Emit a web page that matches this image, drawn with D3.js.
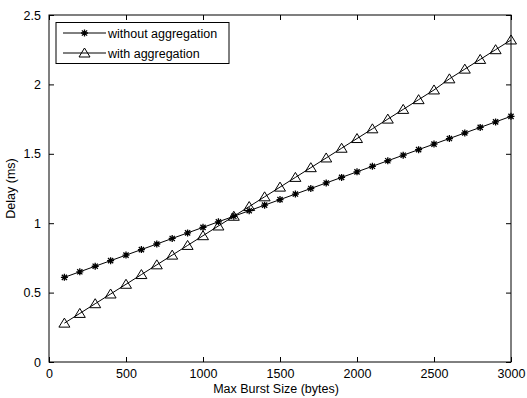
<!DOCTYPE html>
<html><head><meta charset="utf-8">
<script src="https://cdn.jsdelivr.net/npm/d3@7"></script>
<style>body{margin:0;background:#fff}svg{display:block}text{font-family:"Liberation Sans",Arial,sans-serif;fill:#000}</style>
</head><body>
<script>
const burstSizes = [100,200,300,400,500,600,700,800,900,1000,1100,1200,1300,1400,1500,1600,1700,1800,1900,2000,2100,2200,2300,2400,2500,2600,2700,2800,2900,3000];
const withoutAgg = [0.61,0.65,0.69,0.73,0.77,0.81,0.85,0.89,0.93,0.97,1.01,1.05,1.09,1.13,1.17,1.21,1.25,1.29,1.33,1.37,1.41,1.45,1.49,1.53,1.57,1.61,1.65,1.69,1.73,1.77];
const withAgg = [0.28,0.35,0.42,0.49,0.56,0.63,0.70,0.77,0.84,0.91,0.98,1.05,1.12,1.19,1.26,1.33,1.40,1.47,1.54,1.61,1.68,1.75,1.82,1.89,1.96,2.04,2.11,2.18,2.25,2.32];
const xTicks = [0,500,1000,1500,2000,2500,3000];
const yTicks = [0,0.5,1,1.5,2,2.5];
const seriesNames = ["without aggregation","with aggregation"];

const W=527,H=398, L=49,R=511,T=15,B=362;
const svg=d3.select("body").append("svg").attr("width",W).attr("height",H);
const x=d3.scaleLinear().domain([0,3000]).range([L,R]);
const y=d3.scaleLinear().domain([0,2.5]).range([B,T]);
const fs="12.5px";

function styleAxis(g){g.select(".domain").remove();g.selectAll("line").attr("stroke","#000");g.selectAll("text").style("font-size",fs);}
svg.append("g").attr("transform",`translate(0,${B})`).call(d3.axisBottom(x).tickValues(xTicks).tickSize(-5).tickPadding(7).tickFormat(d3.format("d"))).call(styleAxis);
svg.append("g").attr("transform",`translate(0,${T})`).call(d3.axisTop(x).tickValues(xTicks).tickSize(-5).tickFormat("")).call(styleAxis);
svg.append("g").attr("transform",`translate(${L},0)`).call(d3.axisLeft(y).tickValues(yTicks).tickSize(-5).tickPadding(8).tickFormat(d=>String(d))).call(styleAxis);
svg.append("g").attr("transform",`translate(${R},0)`).call(d3.axisRight(y).tickValues(yTicks).tickSize(-5).tickFormat("")).call(styleAxis);
svg.append("rect").attr("x",L).attr("y",T).attr("width",R-L).attr("height",B-T).attr("fill","none").attr("stroke","#000").attr("stroke-width",1);

const line=d3.line().x(d=>x(d[0])).y(d=>y(d[1]));
const s1=burstSizes.map((b,i)=>[b,withoutAgg[i]]);
const s2=burstSizes.map((b,i)=>[b,withAgg[i]]);

function star(g,cx,cy){
  const r=3.5,d=2.6;
  g.append("path").attr("d",`M${cx-r},${cy}H${cx+r}M${cx},${cy-r}V${cy+r}M${cx-d},${cy-d}L${cx+d},${cy+d}M${cx-d},${cy+d}L${cx+d},${cy-d}`).attr("stroke","#000").attr("stroke-width",1.3);
}
function tri(g,cx,cy){
  g.append("path").attr("d",`M${cx},${cy-5}L${cx+5.5},${cy+4}L${cx-5.5},${cy+4}Z`).attr("fill","none").attr("stroke","#000").attr("stroke-width",1);
}
const pg=svg.append("g");
pg.append("path").datum(s1).attr("d",line).attr("fill","none").attr("stroke","#000").attr("stroke-width",1);
pg.append("path").datum(s2).attr("d",line).attr("fill","none").attr("stroke","#000").attr("stroke-width",1);
s1.forEach(d=>star(pg,x(d[0]),y(d[1])));
s2.forEach(d=>tri(pg,x(d[0]),y(d[1])));

// legend
const lg=svg.append("g");
lg.append("rect").attr("x",56).attr("y",22.5).attr("width",173).attr("height",41).attr("fill","#fff").attr("stroke","#000");
[[33,star],[53,tri]].forEach((r,i)=>{
  lg.append("line").attr("x1",63).attr("x2",106).attr("y1",r[0]).attr("y2",r[0]).attr("stroke","#000");
  r[1](lg,84.5,r[0]);
  lg.append("text").attr("x",108).attr("y",r[0]+4.5).style("font-size",fs).text(seriesNames[i]);
});

svg.append("text").attr("x",276).attr("y",393).attr("text-anchor","middle").style("font-size",fs).text("Max Burst Size (bytes)");
svg.append("text").attr("transform",`translate(15,${(T+B)/2}) rotate(-90)`).attr("text-anchor","middle").style("font-size",fs).text("Delay (ms)");
</script>
</body></html>
